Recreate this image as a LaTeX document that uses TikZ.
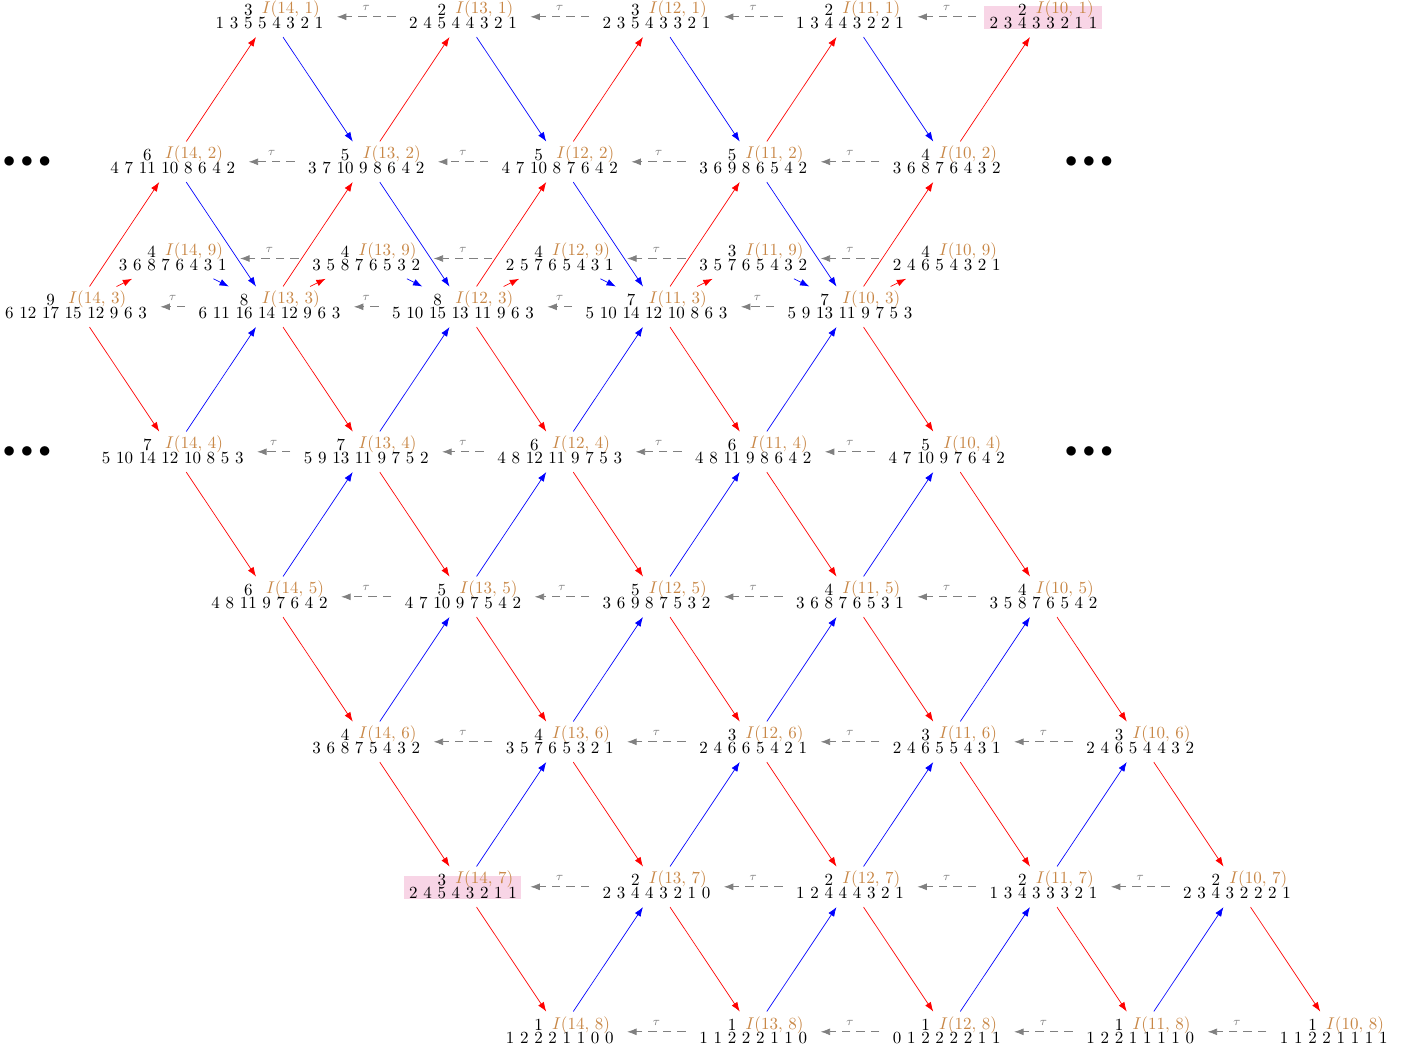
\documentclass[tikz,border=0pt]{standalone}
\usetikzlibrary{arrows.meta,backgrounds}
\definecolor{labc}{RGB}{200,135,70}
\definecolor{pinkbg}{RGB}{248,213,230}
\newlength\dvpre
\newlength\dvmid
\newcommand\dv[6]{%
  \settowidth\dvpre{#3 #4 }\settowidth\dvmid{#5}%
  \vbox{\offinterlineskip
    \hbox{\hskip\dvpre\hbox to\dvmid{\hss#2\hss}\rlap{\hskip5.5pt\smash{\raisebox{1pt}{\color{labc}$I(#1)$}}}}%
    \kern0.8pt
    \hbox{#3 #4 #5 #6}}}
\newcommand\dvnode[7]{%
  \pgfmathsetmacro\nx{76+96.75*abs(#2-3)+193.5*(14-#1)}%
  \pgfmathsetmacro\ny{16.8+145*(#2-1)}%
  \node[dvn] (n-#1-#2) at (\nx,\ny) {\dv{#1,\,#2}{#3}{#4}{#5}{#6}{#7}};}
\newcommand\dvnine[6]{%
  \pgfmathsetmacro\nx{76+96.75+193.5*(14-#1)}%
  \node[dvn] (n-#1-9) at (\nx,258.5) {\dv{#1,\,9}{#2}{#3}{#4}{#5}{#6}};}
\begin{document}
\begin{tikzpicture}[x=0.5882pt,y=-0.5882pt,
  dvn/.style={inner xsep=2.5pt,inner ysep=3.33pt,outer sep=0pt,text height=15.5pt,text depth=1.7pt},
  rd/.style={red,-{Latex[length=5.5pt,width=4pt]}},
  bl/.style={blue,-{Latex[length=5.5pt,width=4pt]}},
  tauarr/.style={gray,dash pattern=on 5pt off 3.5pt,-{Latex[length=5.5pt,width=4pt]},shorten >=5.5pt,shorten <=5.5pt},
  taul/.style={midway,above=3.5pt,font=\scriptsize,text=gray,inner sep=0pt},
  dotsn/.style={font=\Large,inner sep=0pt}]
\useasboundingbox (0,0) rectangle (1416,1054);
% row 1
\dvnode{14}{1}{3}{1}{3}{5}{5 4 3 2 1}
\dvnode{13}{1}{2}{2}{4}{5}{4 4 3 2 1}
\dvnode{12}{1}{3}{2}{3}{5}{4 3 3 2 1}
\dvnode{11}{1}{2}{1}{3}{4}{4 3 2 2 1}
\dvnode{10}{1}{2}{2}{3}{4}{3 3 2 1 1}
% row 2
\dvnode{14}{2}{6}{4}{7}{11}{10 8 6 4 2}
\dvnode{13}{2}{5}{3}{7}{10}{9 8 6 4 2}
\dvnode{12}{2}{5}{4}{7}{10}{8 7 6 4 2}
\dvnode{11}{2}{5}{3}{6}{9}{8 6 5 4 2}
\dvnode{10}{2}{4}{3}{6}{8}{7 6 4 3 2}
% row 9
\dvnine{14}{4}{3}{6}{8}{7 6 4 3 1}
\dvnine{13}{4}{3}{5}{8}{7 6 5 3 2}
\dvnine{12}{4}{2}{5}{7}{6 5 4 3 1}
\dvnine{11}{3}{3}{5}{7}{6 5 4 3 2}
\dvnine{10}{4}{2}{4}{6}{5 4 3 2 1}
% row 3
\dvnode{14}{3}{9}{6}{12}{17}{15 12 9 6 3}
\dvnode{13}{3}{8}{6}{11}{16}{14 12 9 6 3}
\dvnode{12}{3}{8}{5}{10}{15}{13 11 9 6 3}
\dvnode{11}{3}{7}{5}{10}{14}{12 10 8 6 3}
\dvnode{10}{3}{7}{5}{9}{13}{11 9 7 5 3}
% row 4
\dvnode{14}{4}{7}{5}{10}{14}{12 10 8 5 3}
\dvnode{13}{4}{7}{5}{9}{13}{11 9 7 5 2}
\dvnode{12}{4}{6}{4}{8}{12}{11 9 7 5 3}
\dvnode{11}{4}{6}{4}{8}{11}{9 8 6 4 2}
\dvnode{10}{4}{5}{4}{7}{10}{9 7 6 4 2}
% row 5
\dvnode{14}{5}{6}{4}{8}{11}{9 7 6 4 2}
\dvnode{13}{5}{5}{4}{7}{10}{9 7 5 4 2}
\dvnode{12}{5}{5}{3}{6}{9}{8 7 5 3 2}
\dvnode{11}{5}{4}{3}{6}{8}{7 6 5 3 1}
\dvnode{10}{5}{4}{3}{5}{8}{7 6 5 4 2}
% row 6
\dvnode{14}{6}{4}{3}{6}{8}{7 5 4 3 2}
\dvnode{13}{6}{4}{3}{5}{7}{6 5 3 2 1}
\dvnode{12}{6}{3}{2}{4}{6}{6 5 4 2 1}
\dvnode{11}{6}{3}{2}{4}{6}{5 5 4 3 1}
\dvnode{10}{6}{3}{2}{4}{6}{5 4 4 3 2}
% row 7
\dvnode{14}{7}{3}{2}{4}{5}{4 3 2 1 1}
\dvnode{13}{7}{2}{2}{3}{4}{4 3 2 1 0}
\dvnode{12}{7}{2}{1}{2}{4}{4 4 3 2 1}
\dvnode{11}{7}{2}{1}{3}{4}{3 3 3 2 1}
\dvnode{10}{7}{2}{2}{3}{4}{3 2 2 2 1}
% row 8
\dvnode{14}{8}{1}{1}{2}{2}{2 1 1 0 0}
\dvnode{13}{8}{1}{1}{1}{2}{2 2 1 1 0}
\dvnode{12}{8}{1}{0}{1}{2}{2 2 2 1 1}
\dvnode{11}{8}{1}{1}{2}{2}{1 1 1 1 0}
\dvnode{10}{8}{1}{1}{1}{2}{2 1 1 1 1}
% dots
\node[dotsn] (dl2) at (27,162) {$\bullet\bullet\bullet$};
\node[dotsn] (dl4) at (27,452) {$\bullet\bullet\bullet$};
\node[dotsn] (dr2) at (1089,162) {$\bullet\bullet\bullet$};
\node[dotsn] (dr4) at (1089,452) {$\bullet\bullet\bullet$};
% highlight
\begin{scope}[on background layer]
\fill[pinkbg] ([xshift=-0.6pt,yshift=-0.5pt]n-10-1.base west) rectangle ([yshift=13.3pt]n-10-1.base east);
\fill[pinkbg] ([xshift=-0.6pt,yshift=-0.5pt]n-14-7.base west) rectangle ([yshift=13.3pt]n-14-7.base east);
\end{scope}
% red arrows
\foreach \i in {10,...,14}{
  \draw[rd] (n-\i-2) -- (n-\i-1);
  \draw[rd] (n-\i-3) -- (n-\i-2);
  \draw[rd] (n-\i-3) -- (n-\i-9);
  \foreach \j in {3,...,7}{
    \pgfmathtruncatemacro\jp{\j+1}
    \draw[rd] (n-\i-\j) -- (n-\i-\jp);
  }
}
% blue and tau arrows
\foreach \i in {11,...,14}{
  \pgfmathtruncatemacro\k{\i-1}
  \draw[bl] (n-\i-1) -- (n-\k-2);
  \draw[bl] (n-\i-2) -- (n-\k-3);
  \draw[bl] (n-\i-9) -- (n-\k-3);
  \draw[bl] (n-\i-4) -- (n-\k-3);
  \foreach \j in {5,...,8}{
    \pgfmathtruncatemacro\jm{\j-1}
    \draw[bl] (n-\i-\j) -- (n-\k-\jm);
  }
  \foreach \j in {1,...,9}{
    \draw[tauarr] (n-\k-\j.west) -- node[taul]{$\tau$} (n-\i-\j.east);
  }
}
\end{tikzpicture}
\end{document}
